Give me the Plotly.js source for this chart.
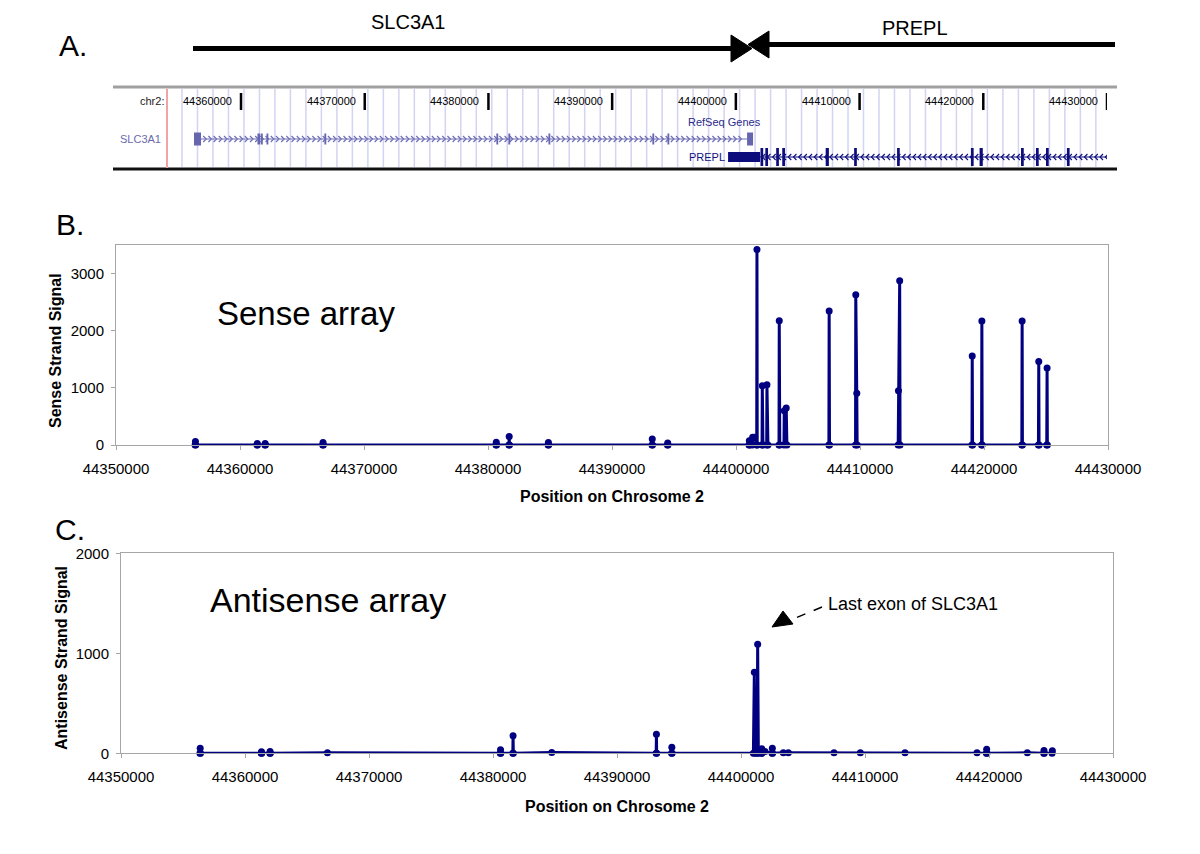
<!DOCTYPE html>
<html>
<head>
<meta charset="utf-8">
<script src="https://cdn.plot.ly/plotly-3.0.1.min.js"></script>
<style>html,body{margin:0;padding:0;background:#fff;}#chart{width:1200px;height:854px;}</style>
</head>
<body>
<div id="chart"></div>
<script>
// ---------------- DATA ----------------
const xTickVals = [44350000, 44360000, 44370000, 44380000, 44390000, 44400000, 44410000, 44420000, 44430000];
const xTickText = ["44350000", "44360000", "44370000", "44380000", "44390000", "44400000", "44410000", "44420000", "44430000"];
const senseTickVals = [0, 1000, 2000, 3000];
const antiTickVals = [0, 1000, 2000];

// Sense array probes (position on chr2, signal)
const sensePos = [44356380, 44356406, 44356430,
  44361370, 44361391, 44361410, 44362010, 44362029, 44362050,
  44366675, 44366696, 44366720, 44380645, 44380667, 44380690,
  44381690, 44381710, 44381730, 44384850, 44384870, 44384890,
  44393226, 44393246, 44393266, 44394473, 44394493, 44394513,
  44401050, 44401073, 44401100, 44401320, 44401342, 44401503, 44401670, 44401690, 44401710,
  44402100, 44402120, 44402173, 44402475, 44402495, 44402576,
  44403468, 44403488, 44403530, 44403870, 44403890, 44404051, 44404105,
  44407490, 44407513, 44407540, 44409640, 44409659, 44409740, 44409770,
  44413080, 44413100, 44413200, 44413230, 44419030, 44419050, 44419080,
  44419805, 44419828, 44419855, 44423050, 44423075, 44423100,
  44424390, 44424416, 44424440, 44425060, 44425087, 44425110];
const senseVal = [0, 60, 0,
  0, 25, 0, 0, 25, 0,
  0, 45, 0, 0, 50, 0,
  0, 150, 0, 0, 45, 0,
  0, 105, 0, 0, 35, 0,
  0, 76, 0, 0, 134, 134, 0, 3420, 0,
  0, 1037, 0, 0, 1055, 0,
  0, 2173, 0, 0, 600, 647, 0,
  0, 2343, 0, 0, 2628, 904, 0,
  0, 950, 2873, 0, 0, 1556, 0,
  0, 2168, 0, 0, 2168, 0,
  0, 1463, 0, 0, 1346, 0];

// Antisense array probes
const antiPos = [44356365, 44356387, 44356410,
  44361310, 44361329, 44361350, 44362003, 44362023, 44362045,
  44366647, 44380587, 44380607, 44380630,
  44381598, 44381618, 44381640, 44384740,
  44393159, 44393179, 44393200, 44394400, 44394422, 44394445,
  44401000, 44401075, 44401120, 44401300, 44401344, 44401400,
  44401645, 44401667, 44401690, 44401935, 44402505, 44402527, 44402550,
  44403414, 44403817, 44407500, 44409624, 44413226, 44419032,
  44419790, 44419812, 44419835,
  44423091, 44424413, 44424435, 44424458, 44425086, 44425108];
const antiVal = [0, 50, 0,
  0, 15, 0, 0, 18, 0,
  5, 0, 35, 0,
  0, 175, 0, 8,
  0, 190, 0, 0, 60, 0,
  0, 810, 0, 0, 1090, 0,
  0, 45, 0, 18, 0, 50, 0,
  5, 5, 5, 5, 5, 5,
  0, 40, 0,
  5, 0, 28, 0, 0, 25];

// Gene model (RefSeq track)
const slcExonStart = [44356200, 44361330, 44361620, 44362060, 44366740, 44380640, 44381610, 44384850, 44393250, 44394470, 44400905];
const slcExonEnd   = [44356766, 44361560, 44361760, 44362210, 44366890, 44380790, 44381760, 44385000, 44393400, 44394620, 44401390];
const slcTxStart = 44356766, slcTxEnd = 44400905;
const preplBlockStart = 44399370, preplBlockEnd = 44401957;
const preplExonStart = [44401990, 44402380, 44403260, 44403750, 44407260, 44409560, 44413030, 44419000, 44419700, 44423050, 44424260, 44425070, 44426760];
const preplExonEnd   = [44402210, 44402600, 44403480, 44403970, 44407520, 44409780, 44413250, 44419220, 44419960, 44423270, 44424480, 44425290, 44426980];
const preplTxEnd = 44430250;
const trackTickVals = [44360000, 44370000, 44380000, 44390000, 44400000, 44410000, 44420000, 44430000];

// ---------------- HELPERS ----------------
const W = 1200, H = 854;
const PX = x => x / W;
const PY = y => 1 - y / H;
const NAVY = '#000080';
const GRAYAX = '#a6a6a6';
const FONT = 'Liberation Sans, Arial, sans-serif';

const shapes = [];
const annotations = [];

function pline(x0, y0, x1, y1, color, width, dash) {
  shapes.push({type: 'line', xref: 'paper', yref: 'paper', x0: PX(x0), y0: PY(y0), x1: PX(x1), y1: PY(y1),
    line: {color: color, width: width, dash: dash || 'solid'}, layer: 'above'});
}
function ppath(pts, color) {
  const d = pts.map((p, i) => (i ? 'L' : 'M') + PX(p[0]) + ',' + PY(p[1])).join(' ') + ' Z';
  shapes.push({type: 'path', xref: 'paper', yref: 'paper', path: d, fillcolor: color, line: {color: color, width: 1}, layer: 'above'});
}
function ptext(text, x, y, size, opts) {
  annotations.push(Object.assign({text: text, xref: 'paper', yref: 'paper', x: PX(x), y: PY(y), showarrow: false,
    font: {family: FONT, size: size, color: '#000'}, xanchor: 'center', yanchor: 'middle'}, opts || {}));
}
function trect(x0, x1, y0, y1, color) {
  shapes.push({type: 'rect', xref: 'x3', yref: 'y3', x0: x0, x1: x1, y0: y0, y1: y1, fillcolor: color, line: {width: 0}, layer: 'above'});
}
function tline(x0, y0, x1, y1, color, width) {
  shapes.push({type: 'line', xref: 'x3', yref: 'y3', x0: x0, y0: y0, x1: x1, y1: y1, line: {color: color, width: width}, layer: 'above'});
}
const BP_PER_PX = 10000 / 123.7;

// ---------------- PANEL A: schematic ----------------
ptext('A.', 73, 46, 30);
ptext('SLC3A1', 408, 22, 20);
ptext('PREPL', 915, 28, 20);
pline(193, 48.5, 733, 48.5, '#000', 5);
pline(766, 44.5, 1115, 44.5, '#000', 5);
ppath([[731, 35], [752, 48.5], [731, 62]], '#000');
ppath([[769, 31], [748, 44.5], [769, 58]], '#000');

// ---------------- PANEL A: genome browser track ----------------
for (let p = 44355230; p <= 44430600; p += 1252) {
  tline(p, 89, p, 167, '#d3d3f3', 1.5);
}
pline(113, 87, 1117, 87, '#a0a0a0', 3);
pline(113, 169, 1117, 169, '#111', 3);
pline(167, 89, 167, 168, '#f2a3a3', 2);
ptext('chr2:', 166, 101, 11, {xanchor: 'right', font: {family: FONT, size: 11, color: '#222'}});
trackTickVals.forEach(v => {
  tline(v, 93, v, 110, '#000', 2.5);
  annotations.push({text: String(v), xref: 'x3', yref: 'y3', x: v, y: 101, xshift: -7, xanchor: 'right', yanchor: 'middle',
    showarrow: false, font: {family: FONT, size: 11, color: '#000'}});
});
ptext('SLC3A1', 163, 139, 11, {xanchor: 'right', font: {family: FONT, size: 11, color: '#6a6aaa'}});
ptext('RefSeq Genes', 724, 122, 11, {font: {family: FONT, size: 11, color: '#2a2a8a'}});
ptext('PREPL', 727, 157, 11, {xanchor: 'right', font: {family: FONT, size: 11, color: '#101080'}});

// SLC3A1 gene (plus strand)
const SLC = '#6e6eb6';
tline(slcTxStart, 139, slcTxEnd, 139, SLC, 1.2);
{
  let d = '';
  for (let p = slcTxStart + 300; p < slcTxEnd - 200; p += 420) {
    d += `M${p - 1.5 * BP_PER_PX},136 L${p + 1.5 * BP_PER_PX},139 L${p - 1.5 * BP_PER_PX},142 `;
  }
  shapes.push({type: 'path', xref: 'x3', yref: 'y3', path: d, line: {color: SLC, width: 1.2}, layer: 'above'});
}
slcExonStart.forEach((s, i) => {
  const big = (i === 0 || i === slcExonStart.length - 1);
  trect(s, slcExonEnd[i], big ? 132.5 : 133.5, big ? 145.5 : 144.5, '#6666b0');
});

// PREPL gene (minus strand)
const PRE = '#0c0c7c';
trect(preplBlockStart, preplBlockEnd, 152, 162, PRE);
tline(preplBlockEnd, 157, preplTxEnd, 157, PRE, 1.2);
{
  let d = '';
  for (let p = preplBlockEnd + 300; p < preplTxEnd - 100; p += 420) {
    d += `M${p + 1.5 * BP_PER_PX},154 L${p - 1.5 * BP_PER_PX},157 L${p + 1.5 * BP_PER_PX},160 `;
  }
  shapes.push({type: 'path', xref: 'x3', yref: 'y3', path: d, line: {color: PRE, width: 1.1}, layer: 'above'});
}
preplExonStart.forEach((s, i) => trect(s, preplExonEnd[i], 148, 166, PRE));

// ---------------- PANEL B / C texts ----------------
ptext('B.', 70, 224, 30);
ptext('C.', 70, 529, 30);
ptext('Sense array', 215, 313, 33, {xanchor: 'left'});
ptext('Antisense array', 208, 600, 34, {xanchor: 'left'});
ptext('Last exon of SLC3A1', 826, 604, 18, {xanchor: 'left'});
pline(822, 607, 793, 619, '#000', 1.5, 'dash');
ppath([[772, 627], [783, 611], [793, 624]], '#000');

ptext('<b>Position on Chrosome 2</b>', 612, 496, 16);
ptext('<b>Position on Chrosome 2</b>', 617, 806, 16);
ptext('<b>Sense Strand Signal</b>', 55, 350, 16, {textangle: -90});
ptext('<b>Antisense Strand Signal</b>', 61, 658, 16, {textangle: -90});

// ---------------- TRACES ----------------
const traceStyle = {mode: 'lines+markers', line: {color: NAVY, width: 3}, marker: {color: NAVY, size: 7},
  cliponaxis: false, hoverinfo: 'x+y', type: 'scatter'};
const traces = [
  Object.assign({x: sensePos, y: senseVal, xaxis: 'x', yaxis: 'y', name: 'Sense'}, traceStyle),
  Object.assign({x: antiPos, y: antiVal, xaxis: 'x2', yaxis: 'y2', name: 'Antisense'}, traceStyle)
];

const axBase = {showline: true, mirror: true, linecolor: GRAYAX, linewidth: 1, ticks: 'outside', ticklen: 4,
  tickcolor: GRAYAX, showgrid: false, zeroline: false, tickfont: {family: FONT, size: 15, color: '#000'},
  fixedrange: true, automargin: false};

const layout = {
  width: W, height: H, margin: {l: 0, r: 0, t: 0, b: 0},
  paper_bgcolor: '#fff', plot_bgcolor: '#fff', showlegend: false,
  font: {family: FONT, color: '#000'},
  xaxis: Object.assign({}, axBase, {domain: [PX(116), PX(1108)], range: [44350000, 44430000], anchor: 'y',
    tickmode: 'array', tickvals: xTickVals, ticktext: xTickText, ticklabelstandoff: 6}),
  yaxis: Object.assign({}, axBase, {domain: [PY(445), PY(245)], range: [0, 3500], anchor: 'x',
    tickmode: 'array', tickvals: senseTickVals, ticktext: senseTickVals.map(String), ticklabelstandoff: 4}),
  xaxis2: Object.assign({}, axBase, {domain: [PX(121), PX(1113)], range: [44350000, 44430000], anchor: 'y2',
    tickmode: 'array', tickvals: xTickVals, ticktext: xTickText, ticklabelstandoff: 6}),
  yaxis2: Object.assign({}, axBase, {domain: [PY(753.3), PY(553.3)], range: [0, 2000], anchor: 'x2',
    tickmode: 'array', tickvals: antiTickVals, ticktext: antiTickVals.map(String), ticklabelstandoff: 4}),
  xaxis3: {domain: [PX(117.3), PX(1107)], range: [44350000, 44430000], visible: false, anchor: 'y3', fixedrange: true},
  yaxis3: {domain: [PY(172), PY(88)], range: [172, 88], visible: false, anchor: 'x3', fixedrange: true},
  shapes: shapes,
  annotations: annotations
};

Plotly.newPlot('chart', traces, layout, {displayModeBar: false, staticPlot: true});
</script>
</body>
</html>
